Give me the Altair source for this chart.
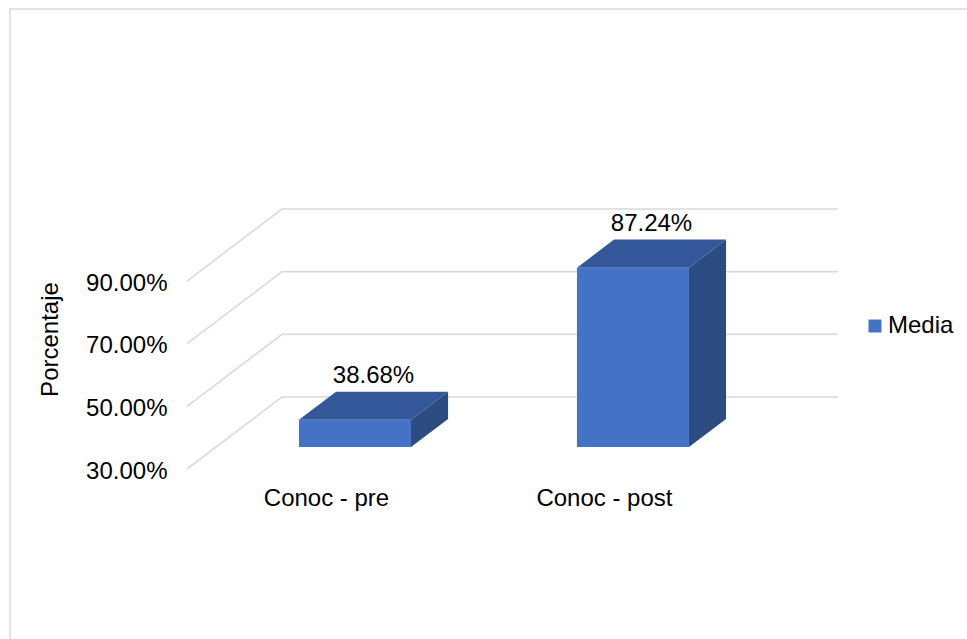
import altair as alt
import pandas as pd

# ---- chart values ----
categories = ["Conoc - pre", "Conoc - post"]
media = [38.68, 87.24]
y_ticks = [30, 50, 70, 90]
series_name = "Media"
axis_title = "Porcentaje"

# ---- oblique 3-D projection (depth expressed in data units) ----
DEPTH_X = 0.342      # horizontal shift of the back wall, in category units
DEPTH_Y = 23.0       # vertical shift of the back wall, in percent units
BAR_HALF = 0.2015    # half bar width, in category units
Z_FRONT, Z_BACK = 0.305, 0.695   # bar depth span (0 = front, 1 = back wall)
BASE = y_ticks[0]

X_MAX = len(categories) + DEPTH_X
Y_MAX = y_ticks[-1] + DEPTH_Y

FRONT_COLOR = "#4472C4"
TOP_COLOR = "#34579A"
SIDE_COLOR = "#2C4B81"
GRID_COLOR = "#D9D9D9"
FONT = "Liberation Sans"
FS = 24

# ---- tables built from the values above ----
front_rows, top_rows, side_rows, label_rows = [], [], [], []
for i, (cat, v) in enumerate(zip(categories, media)):
    xl = i + 0.5 - BAR_HALF
    xr = i + 0.5 + BAR_HALF
    front_rows.append(dict(cat=cat, serie=series_name,
                           x=xl + Z_FRONT * DEPTH_X, x2=xr + Z_FRONT * DEPTH_X,
                           y=BASE + Z_FRONT * DEPTH_Y, y2=v + Z_FRONT * DEPTH_Y))
    for z in (Z_FRONT, Z_BACK):
        top_rows.append(dict(cat=cat, y=v + z * DEPTH_Y,
                             x=xl + z * DEPTH_X, x2=xr + z * DEPTH_X))
        side_rows.append(dict(cat=cat, x=xr + z * DEPTH_X,
                              y=BASE + z * DEPTH_Y, y2=v + z * DEPTH_Y))
    label_rows.append(dict(cat=cat, x=i + 0.5 + (Z_FRONT + Z_BACK) / 2 * DEPTH_X,
                           y=v + Z_BACK * DEPTH_Y, text=f"{v:.2f}%"))

grid_rows = []
for t in y_ticks:
    grid_rows += [
        dict(tick=t, o=0, x=0, y=t),
        dict(tick=t, o=1, x=DEPTH_X, y=t + DEPTH_Y),
        dict(tick=t, o=2, x=len(categories) + DEPTH_X, y=t + DEPTH_Y),
    ]

front_df = pd.DataFrame(front_rows)
top_df = pd.DataFrame(top_rows)
side_df = pd.DataFrame(side_rows)
label_df = pd.DataFrame(label_rows)
grid_df = pd.DataFrame(grid_rows)

# ---- shared scales and axes ----
x_scale = alt.Scale(domain=[0, X_MAX], nice=False, zero=False)
y_scale = alt.Scale(domain=[BASE, Y_MAX], nice=False, zero=False)

cat_expr = " : ".join(
    f"datum.value < {i + 1} ? '{c}'" for i, c in enumerate(categories[:-1])
) + f" : '{categories[-1]}'"

x_axis = alt.Axis(values=[i + 0.5 for i in range(len(categories))],
                  labelExpr=cat_expr, title=None, domain=False, ticks=False,
                  grid=False, labelFontSize=FS, labelColor="#000000",
                  labelFont=FONT, labelPadding=17, labelFlush=False)
y_axis = alt.Axis(values=y_ticks, labelExpr="format(datum.value, '.2f') + '%'",
                  title=axis_title, domain=False, ticks=False, grid=False,
                  labelFontSize=FS, labelColor="#000000", labelFont=FONT,
                  labelPadding=20, labelOffset=2, titleFontSize=FS,
                  titleFont=FONT, titleFontWeight="normal",
                  titleColor="#000000", titlePadding=23)


def xq(field="x"):
    return alt.X(f"{field}:Q", scale=x_scale, axis=x_axis)


def yq(field="y"):
    return alt.Y(f"{field}:Q", scale=y_scale, axis=y_axis)


# light-gray frame around the chart area
frame = alt.Chart(alt.Data(values=[{}])).mark_rect(
    fill="transparent", stroke=GRID_COLOR, strokeWidth=1.5
).encode(x=alt.value(-177), y=alt.value(-200),
         x2=alt.value(790), y2=alt.value(440))

# side wall diagonals + back wall gridlines
grid = alt.Chart(grid_df).mark_line(color=GRID_COLOR, strokeWidth=1.6).encode(
    x=xq(), y=yq(), detail="tick:N", order="o:Q"
)

front = alt.Chart(front_df).mark_rect().encode(
    x=xq(), x2="x2:Q", y=yq(), y2="y2:Q",
    color=alt.Color("serie:N",
                    scale=alt.Scale(domain=[series_name], range=[FRONT_COLOR]),
                    legend=alt.Legend(title=None, orient="none",
                                      legendX=676, legendY=105,
                                      symbolType="square", symbolSize=169,
                                      symbolStrokeWidth=0, labelFontSize=FS,
                                      labelFont=FONT, labelColor="#000000",
                                      labelOffset=1, padding=0)),
)

top = alt.Chart(top_df).mark_area(orient="horizontal", color=TOP_COLOR).encode(
    y=yq(), x=xq(), x2="x2:Q", detail="cat:N"
)

side = alt.Chart(side_df).mark_area(orient="vertical", color=SIDE_COLOR).encode(
    x=xq(), y=yq(), y2="y2:Q", detail="cat:N"
)

labels = alt.Chart(label_df).mark_text(
    fontSize=FS, font=FONT, color="#000000", baseline="middle", dy=-16
).encode(x=xq(), y=yq(), text="text:N")

chart = alt.layer(frame, grid, side, top, front, labels).properties(
    width=651, height=260,
    autosize=alt.AutoSizeParams(type="none"),
    padding={"left": 187, "top": 209, "right": 129, "bottom": 170},
    background="white",
).configure_view(stroke=None)

chart.save("out.html", embed_options={"renderer": "svg", "actions": False})
